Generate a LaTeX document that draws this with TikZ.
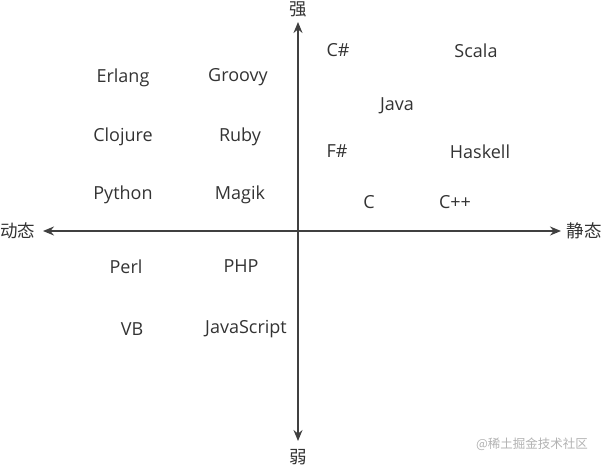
\documentclass[tikz,border=0pt]{standalone}
\usepackage{fontspec}
\setmainfont{Open Sans}
\newfontfamily\cjk{Noto Sans CJK SC}
\usetikzlibrary{arrows.meta,positioning}
\definecolor{axisgray}{RGB}{64,64,64}
\definecolor{langgray}{RGB}{51,51,51}
\tikzset{
	lang/.style={
		text=langgray,
		font=\fontsize{18}{20}\selectfont,
		inner sep=1pt,
		yshift=-1.5pt,
	},
	axlabel/.style={
		text=langgray,
		font=\cjk\fontsize{17.5}{20}\selectfont,
		inner sep=1pt,
	},
	axis/.style={
		{Stealth[length=11pt,width=9pt]}-{Stealth[length=11pt,width=9pt]},
		line width=1.6pt,
		draw=axisgray,
	},
}
\begin{document}
\begin{tikzpicture}[x=1pt,y=-1pt]
	\useasboundingbox (0,0) rectangle (603,466);

	% axis labels
	\node [axlabel] (strong) at (298,9) {强};
	\node [axlabel] (weak) at (298,457) {弱};
	\node [axlabel] (dynamic) at (18,231) {动态};
	\node [axlabel] (static) at (584,231) {静态};

	\coordinate (top) at (298,22);
	\coordinate (bottom) at (298,441);
	\coordinate (left) at (43,231);
	\coordinate (right) at (561,231);

	\draw[axis] (left) -- (right);
	\draw[axis] (bottom) -- (top);

	% static side
	\node [lang] (csharp) at (338,49) {C\#};
	\node [lang] (scala) at (476,49) {Scala};
	\node [lang] (java) at (397,104) {Java};
	\node [lang] (fsharp) at (337,150) {F\#};
	\node [lang] (haskell) at (480,150) {Haskell};
	\node [lang] (c) at (369,201) {C};
	\node [lang] (cpp) at (455,201) {C++};

	% dynamic side
	\node [lang] (erlang) at (123,76) {Erlang};
	\node [lang] (groovy) at (238,76) {Groovy};
	\node [lang] (clojure) at (123,135) {Clojure};
	\node [lang] (ruby) at (240,135) {Ruby};
	\node [lang] (python) at (123,193) {Python};
	\node [lang] (magik) at (240,193) {Magik};
	\node [lang] (perl) at (126,265) {Perl};
	\node [lang] (php) at (241,265) {PHP};
	\node [lang] (vb) at (132,328) {VB};
	\node [lang] (js) at (246,328) {JavaScript};

	% watermark
	\node [text=black!30,font=\cjk\fontsize{12.5}{14}\selectfont,inner sep=0pt] (mark) at (532,444) {@稀土掘金技术社区};
\end{tikzpicture}
\end{document}
